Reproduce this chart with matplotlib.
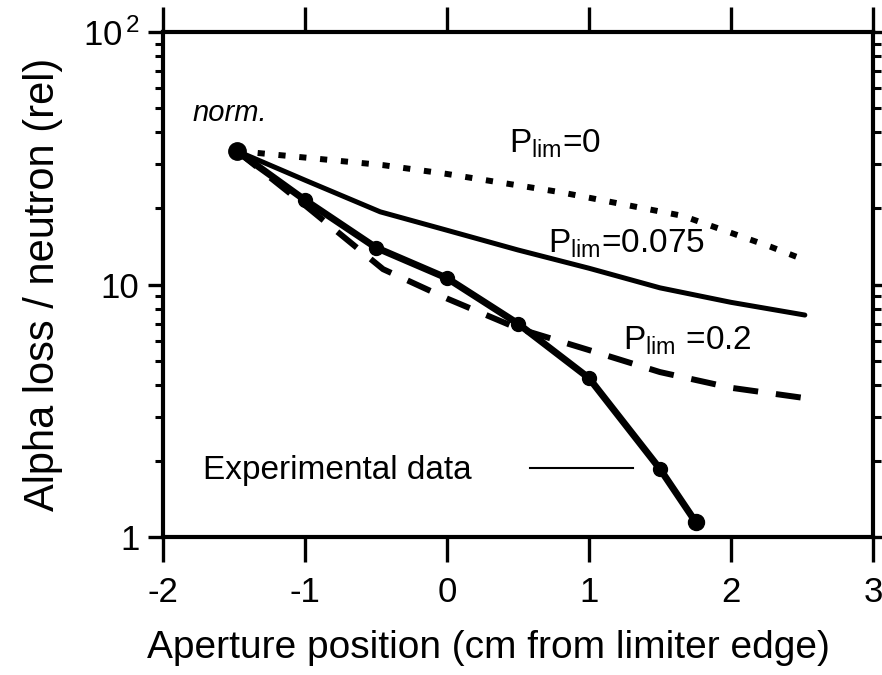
import numpy as np
import matplotlib
matplotlib.use('Agg')
import matplotlib.pyplot as plt
from matplotlib.lines import Line2D
from matplotlib.ticker import FixedLocator, FixedFormatter, LogLocator, NullFormatter

plt.rcParams['font.family'] = ['Liberation Sans', 'DejaVu Sans']
plt.rcParams['mathtext.fontset'] = 'custom'
plt.rcParams['mathtext.rm'] = 'Liberation Sans'
plt.rcParams['mathtext.it'] = 'Liberation Sans:italic'
plt.rcParams['axes.unicode_minus'] = False

# experimental data (thick line with dots)
exp_x = [-1.48, -1.0, -0.5, 0.0, 0.5, 1.0, 1.5, 1.75]
exp_y = [33.8, 21.6, 14.0, 10.6, 7.0, 4.26, 1.86, 1.15]

# model curves
p0_x = [-1.48, -0.45, 0.0, 0.8, 1.66, 2.28, 2.52]
p0_y = [33.8, 29.7, 27.4, 23.2, 18.7, 14.1, 12.5]

p075_x = [-1.48, -1.0, -0.47, 0.0, 0.5, 1.0, 1.5, 2.0, 2.52]
p075_y = [33.8, 25.9, 19.4, 16.4, 13.7, 11.6, 9.7, 8.5, 7.57]

p02_x = [-1.48, -1.0, -0.45, 0.0, 0.5, 1.0, 1.5, 2.0, 2.52]
p02_y = [33.8, 20.6, 11.5, 8.8, 6.7, 5.5, 4.5, 3.9, 3.55]

xticks = [-2, -1, 0, 1, 2, 3]
xtick_labels = ['-2', '-1', '0', '1', '2', '3']
yticks = [1, 10, 100]
ytick_labels = ['1', '10', '10$^{\\,2}$']

fig = plt.figure(figsize=(8.82, 6.75), dpi=100)
ax = fig.add_axes([0.1848, 0.2044, 0.805, 0.7482])

ax.plot(p0_x, p0_y, color='black', lw=4.3, dashes=(1.2, 2.3), dash_capstyle='butt')
ax.plot(p075_x, p075_y, color='black', lw=3.6, solid_capstyle='round')
ax.plot(p02_x, p02_y, color='black', lw=4.3, dashes=(4.2, 3.0), dash_capstyle='butt')
ax.plot(exp_x, exp_y, color='black', lw=5, marker='o', ms=10)
ax.plot(exp_x[0], exp_y[0], 'o', color='black', ms=12.5)
ax.plot(exp_x[-1], exp_y[-1], 'o', color='black', ms=11.5)

ax.set_yscale('log')
ax.set_xlim(-2, 3)
ax.set_ylim(1, 100)

ax.xaxis.set_major_locator(FixedLocator(xticks))
ax.xaxis.set_major_formatter(FixedFormatter(xtick_labels))
ax.yaxis.set_major_locator(FixedLocator(yticks))
ax.yaxis.set_major_formatter(FixedFormatter(ytick_labels))
ax.yaxis.set_minor_locator(LogLocator(base=10, subs=np.arange(2, 10)))
ax.yaxis.set_minor_formatter(NullFormatter())

ax.tick_params(axis='x', which='major', direction='out', length=18, width=2.4,
               top=True, labelsize=25, pad=10)
ax.tick_params(axis='y', which='major', direction='out', length=11, width=2.4,
               right=True, labelsize=25, pad=6)
ax.tick_params(axis='y', which='minor', direction='out', length=6, width=2.2,
               right=True)
for s in ax.spines.values():
    s.set_linewidth(3)

ax.set_xlabel('Aperture position (cm from limiter edge)', fontsize=28)
ax.xaxis.set_label_coords(0.458, -0.185)
ax.set_ylabel('Alpha loss / neutron (rel)', fontsize=30, labelpad=14)

ax.text(-1.79, 47.8, 'norm.', fontsize=21, style='italic', ha='left', va='center')
ax.text(0.44, 33.2, 'P$_{\\mathrm{lim}}$=0', fontsize=24, ha='left', va='baseline')
ax.text(0.71, 13.4, 'P$_{\\mathrm{lim}}$=0.075', fontsize=24, ha='left', va='baseline')
ax.text(1.24, 5.5, 'P$_{\\mathrm{lim}}$ =0.2', fontsize=24, ha='left', va='baseline')

proxy = Line2D([], [], color='black', lw=1.5)
ax.legend(handles=[proxy], labels=['Experimental data'], markerfirst=False,
          frameon=False, fontsize=24, loc='center left',
          bbox_to_anchor=(0.056, 0.131), borderpad=0, borderaxespad=0,
          handlelength=3.1, handletextpad=1.75)

fig.savefig('out.png', dpi=100)
